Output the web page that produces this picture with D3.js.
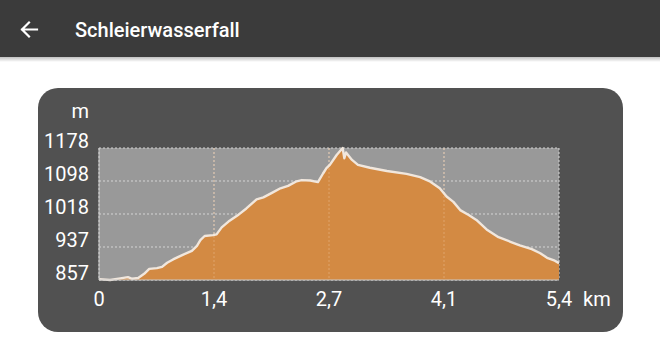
<!DOCTYPE html>
<html>
<head>
<meta charset="utf-8">
<script src="https://cdn.jsdelivr.net/npm/d3@7.9.0/dist/d3.min.js"></script>
<style>
  body { margin: 0; background: #fff; font-family: Roboto, "Noto Sans", sans-serif; }
</style>
</head>
<body>
<div id="chart"></div>
<script>
// elevation profile (km, m)
const distKm = [0, 0.13, 0.25, 0.34, 0.39, 0.46, 0.53, 0.59, 0.68, 0.74, 0.80, 0.87, 0.97, 1.09, 1.15, 1.19, 1.24, 1.34, 1.38, 1.44,
  1.52, 1.62, 1.73, 1.85, 1.93, 2.03, 2.13, 2.22, 2.32, 2.38, 2.48, 2.57, 2.63, 2.67, 2.71, 2.79, 2.86, 2.88, 2.90, 2.97,
  3.04, 3.18, 3.38, 3.61, 3.77, 3.89, 4.00, 4.08, 4.16, 4.24, 4.34, 4.43, 4.55, 4.69, 4.83, 4.94, 5.08, 5.18, 5.26, 5.35, 5.40];
const elevM = [859, 857, 861, 864, 860, 862, 872, 884, 886, 889, 899, 907, 917, 928, 940, 954, 964, 966, 968, 985,
  999, 1013, 1031, 1053, 1058, 1069, 1080, 1086, 1097, 1100, 1099, 1095, 1116, 1129, 1137, 1161, 1178, 1153, 1167, 1149,
  1137, 1130, 1122, 1115, 1107, 1096, 1080, 1060, 1047, 1027, 1015, 1003, 980, 961, 950, 941, 932, 922, 911, 904, 898];

const yTickValues = [857, 937.25, 1017.5, 1097.75, 1178];
const yTickLabels = ["857", "937", "1018", "1098", "1178"];
const xTickValues = [0, 1.35, 2.7, 4.05, 5.4];
const xTickLabels = ["0", "1,4", "2,7", "4,1", "5,4"];
const title = "Schleierwasserfall";

const W = 660, H = 347;
const svg = d3.select("#chart").append("svg")
  .attr("width", W).attr("height", H)
  .style("display", "block");

const defs = svg.append("defs");
const shadow = defs.append("linearGradient").attr("id", "shadow")
  .attr("x1", 0).attr("x2", 0).attr("y1", 0).attr("y2", 1);
shadow.append("stop").attr("offset", "0%").attr("stop-color", "#000").attr("stop-opacity", 0.25);
shadow.append("stop").attr("offset", "100%").attr("stop-color", "#000").attr("stop-opacity", 0);

// app bar
svg.append("rect").attr("x", 0).attr("y", 57).attr("width", W).attr("height", 5).attr("fill", "url(#shadow)");
svg.append("rect").attr("x", 0).attr("y", 0).attr("width", W).attr("height", 57).attr("fill", "#3b3b3b");

svg.append("path")
  .attr("d", "M37,29.5 H22 M29,22.5 L22,29.5 L29,36.5")
  .attr("fill", "none").attr("stroke", "#fff").attr("stroke-width", 2.2)
  .attr("stroke-linecap", "square");

svg.append("text")
  .attr("x", 75).attr("y", 37)
  .attr("fill", "#fff").attr("font-size", 20).attr("font-weight", 500)
  .text(title);

// card
svg.append("rect")
  .attr("x", 38).attr("y", 88).attr("width", 585).attr("height", 244)
  .attr("rx", 20).attr("fill", "#515151");

const x = d3.scaleLinear().domain([0, 5.4]).range([99, 559]);
const y = d3.scaleLinear().domain([857, 1178]).range([280, 148]);

const g = svg.append("g");

// plot background
g.append("rect")
  .attr("x", x(0)).attr("y", y(1178))
  .attr("width", x(5.4) - x(0)).attr("height", y(857) - y(1178))
  .attr("fill", "#999999");

// grid
g.append("g").selectAll("line.h").data(yTickValues).join("line")
  .attr("x1", x(0)).attr("x2", x(5.4))
  .attr("y1", d => y(d)).attr("y2", d => y(d))
  .attr("stroke", "#d4d4d4").attr("stroke-width", 1)
  .attr("stroke-dasharray", "2 2");
g.append("g").selectAll("line.v").data(xTickValues).join("line")
  .attr("x1", d => x(d)).attr("x2", d => x(d))
  .attr("y1", y(1178)).attr("y2", y(857))
  .attr("stroke", "#d4d4d4").attr("stroke-width", 1)
  .attr("stroke-dasharray", "2 2");

const pts = distKm.map((d, i) => ({ d, v: elevM[i] }));

const area = d3.area()
  .x(p => x(p.d))
  .y0(y(857))
  .y1(p => y(p.v));

g.append("path").datum(pts)
  .attr("d", area)
  .attr("fill", "#d38a43");

// vertical grid on top of fill (faint)
g.append("g").selectAll("line").data(xTickValues.slice(1, -1)).join("line")
  .attr("x1", d => x(d)).attr("x2", d => x(d))
  .attr("y1", y(1178)).attr("y2", y(857))
  .attr("stroke", "#e8b888").attr("stroke-width", 1)
  .attr("stroke-dasharray", "2 2").attr("opacity", 0.6);

g.append("path").datum(pts)
  .attr("d", d3.line().x(p => x(p.d)).y(p => y(p.v)))
  .attr("fill", "none")
  .attr("stroke", "#f1e7dd").attr("stroke-width", 2.4)
  .attr("stroke-linejoin", "round");

// bottom / left edges
g.append("line").attr("x1", x(0)).attr("x2", x(5.4)).attr("y1", y(857)).attr("y2", y(857))
  .attr("stroke", "#c9c9c9").attr("stroke-width", 1);
g.append("line").attr("x1", x(0)).attr("x2", x(0)).attr("y1", y(1178)).attr("y2", y(857))
  .attr("stroke", "#c9c9c9").attr("stroke-width", 1);

// y labels
g.append("g").selectAll("text").data(yTickValues).join("text")
  .attr("x", 89).attr("y", d => y(d))
  .attr("text-anchor", "end")
  .attr("fill", "#fff").attr("font-size", 20)
  .text((d, i) => yTickLabels[i]);

g.append("text")
  .attr("x", 89).attr("y", 118)
  .attr("text-anchor", "end")
  .attr("fill", "#fff").attr("font-size", 20)
  .text("m");

// x labels
g.append("g").selectAll("text").data(xTickValues).join("text")
  .attr("x", d => x(d)).attr("y", 306)
  .attr("text-anchor", "middle")
  .attr("fill", "#fff").attr("font-size", 20)
  .text((d, i) => xTickLabels[i]);

g.append("text")
  .attr("x", 583).attr("y", 306)
  .attr("fill", "#fff").attr("font-size", 20)
  .text("km");
</script>
</body>
</html>
